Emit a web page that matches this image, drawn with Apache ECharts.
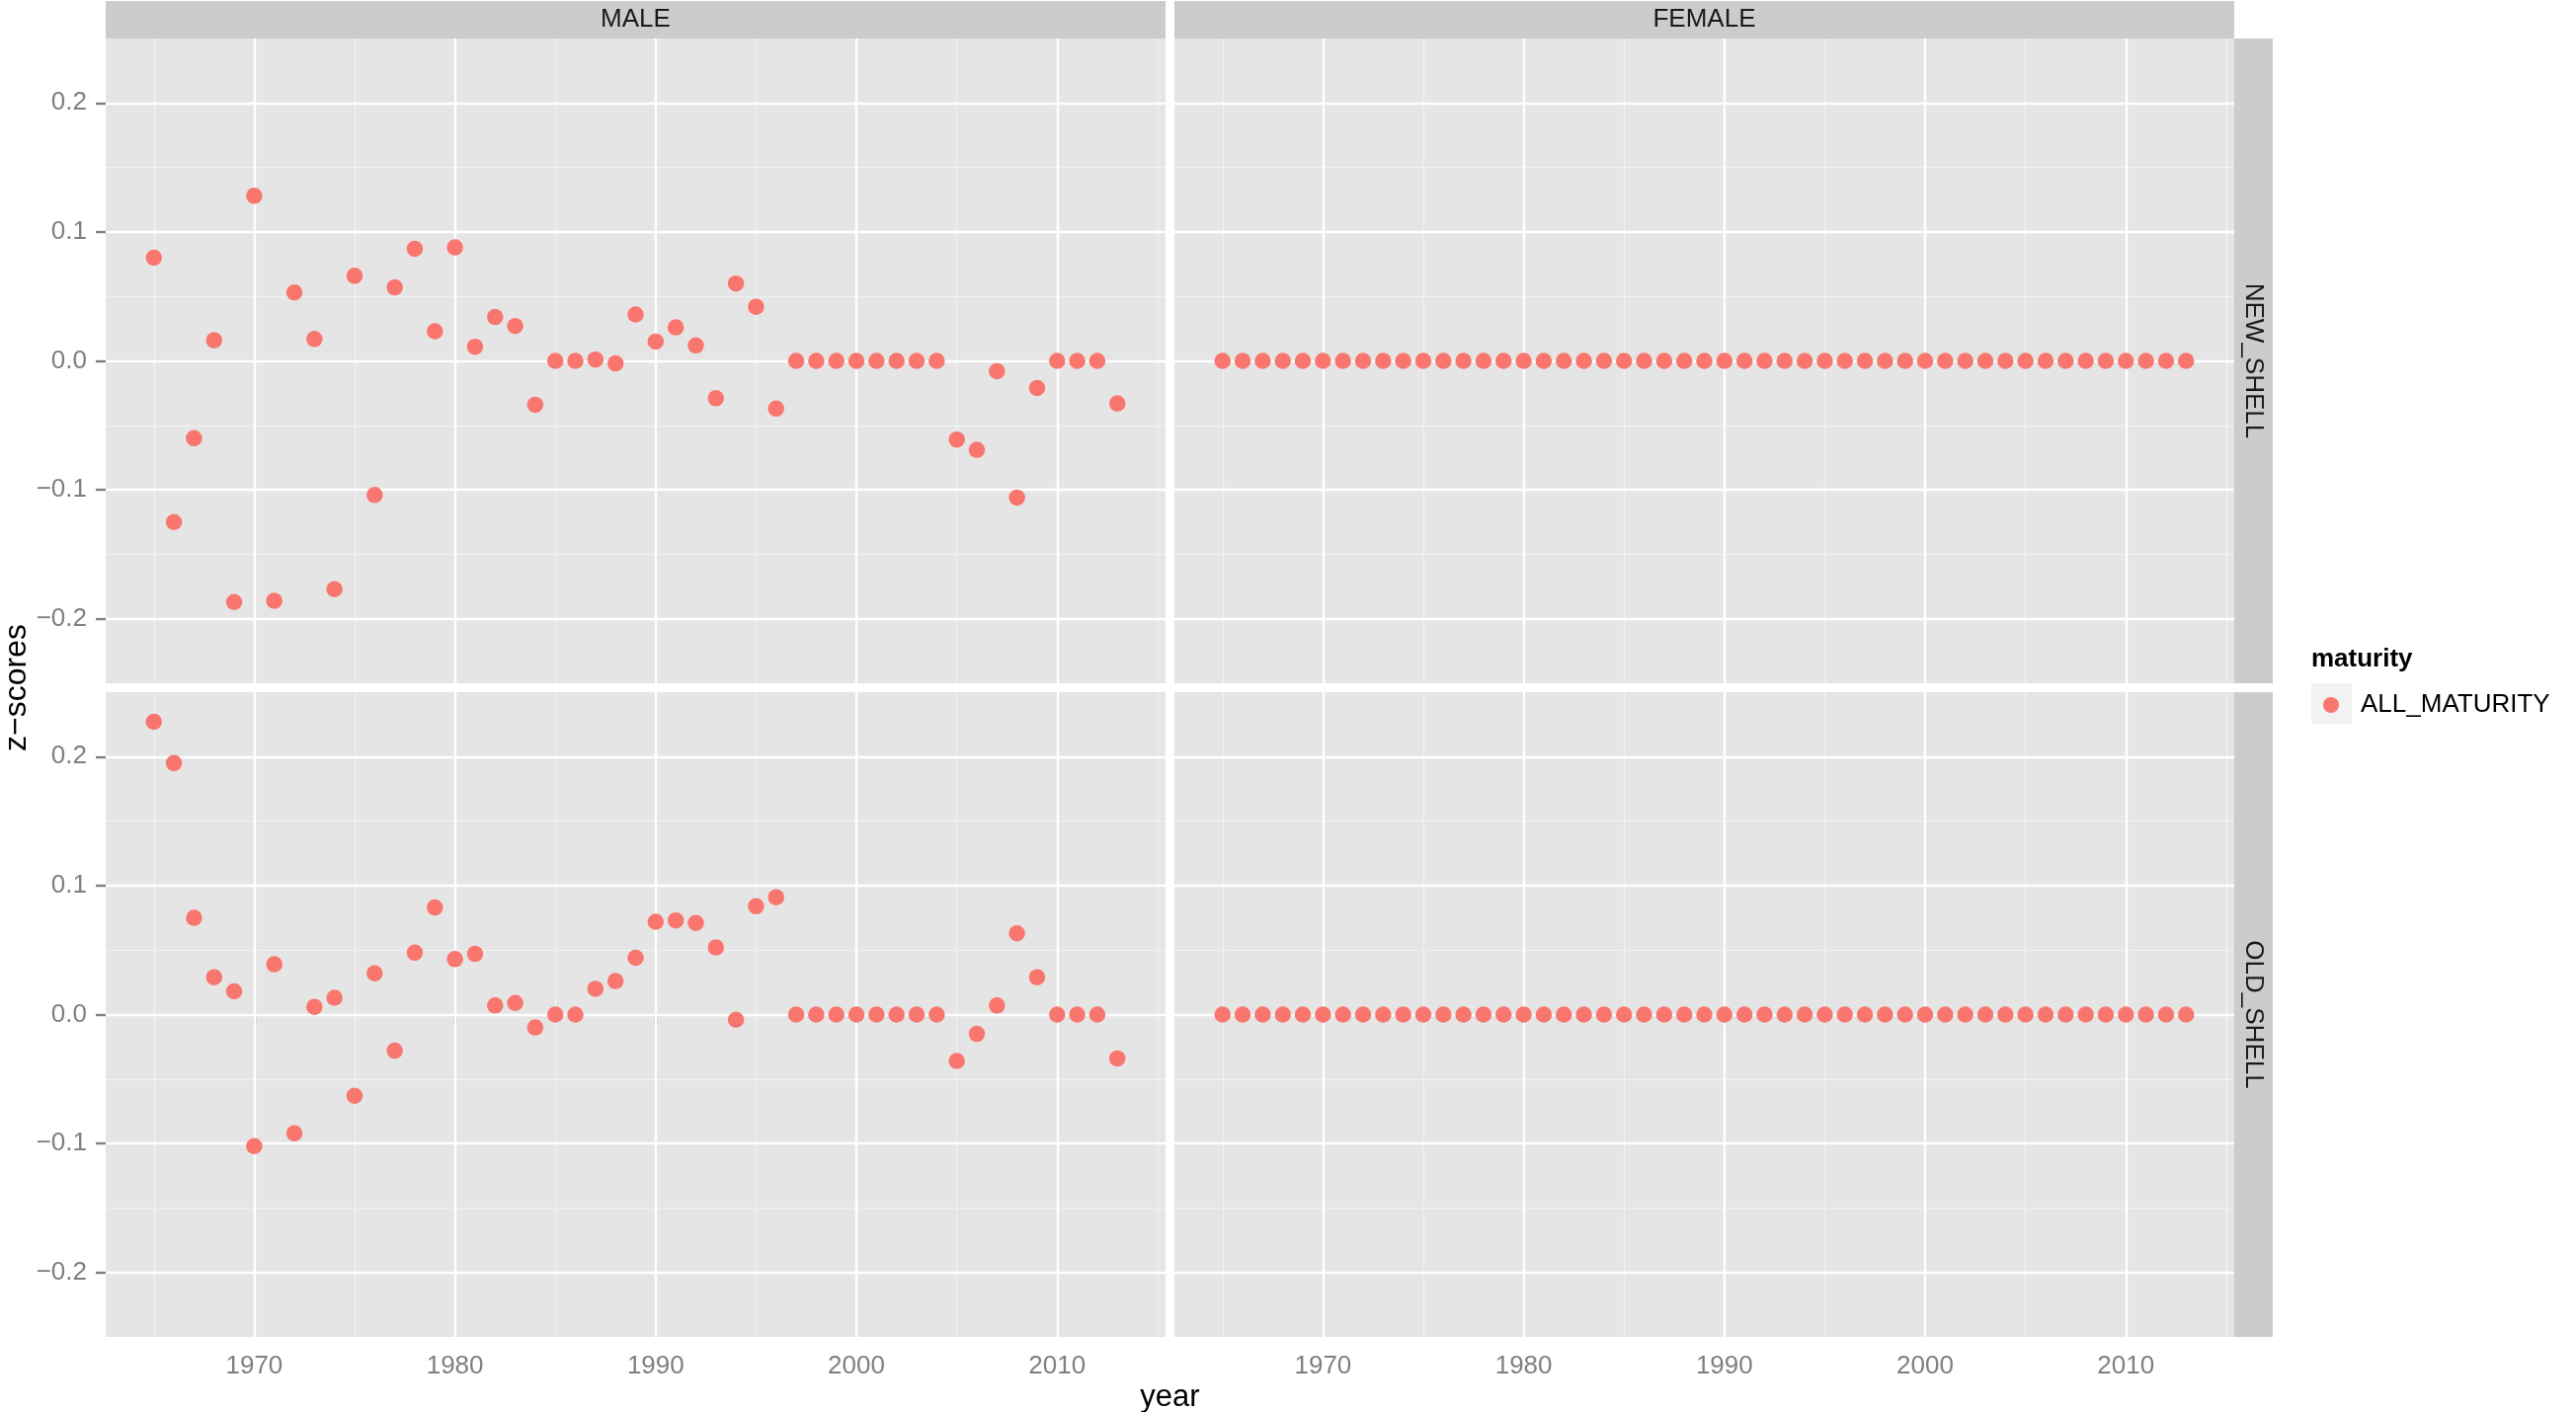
<!DOCTYPE html>
<html><head><meta charset="utf-8">
<script src="https://cdn.jsdelivr.net/npm/echarts@6/dist/echarts.min.js"></script>
<style>html,body{margin:0;padding:0;background:#fff}#c{width:2608px;height:1430px}</style>
</head><body><div id="c"></div>
<script>
// ---------------- data ----------------
const years = [1965,1966,1967,1968,1969,1970,1971,1972,1973,1974,1975,1976,1977,1978,1979,
  1980,1981,1982,1983,1984,1985,1986,1987,1988,1989,1990,1991,1992,1993,1994,1995,1996,
  1997,1998,1999,2000,2001,2002,2003,2004,2005,2006,2007,2008,2009,2010,2011,2012,2013];

const maleNewShell = [0.080,-0.125,-0.060,0.016,-0.187,0.128,-0.186,0.053,0.017,-0.177,0.066,-0.104,0.057,0.087,0.023,
  0.088,0.011,0.034,0.027,-0.034,0.000,0.000,0.001,-0.002,0.036,0.015,0.026,0.012,-0.029,0.060,0.042,-0.037,
  0.000,0.000,0.000,0.000,0.000,0.000,0.000,0.000,-0.061,-0.069,-0.008,-0.106,-0.021,0.000,0.000,0.000,-0.033];

const femaleNewShell = [0,0,0,0,0,0,0,0,0,0,0,0,0,0,0,
  0,0,0,0,0,0,0,0,0,0,0,0,0,0,0,0,0,
  0,0,0,0,0,0,0,0,0,0,0,0,0,0,0,0,0];

const maleOldShell = [0.227,0.195,0.075,0.029,0.018,-0.102,0.039,-0.092,0.006,0.013,-0.063,0.032,-0.028,0.048,0.083,
  0.043,0.047,0.007,0.009,-0.010,0.000,0.000,0.020,0.026,0.044,0.072,0.073,0.071,0.052,-0.004,0.084,0.091,
  0.000,0.000,0.000,0.000,0.000,0.000,0.000,0.000,-0.036,-0.015,0.007,0.063,0.029,0.000,0.000,0.000,-0.034];

const femaleOldShell = [0,0,0,0,0,0,0,0,0,0,0,0,0,0,0,
  0,0,0,0,0,0,0,0,0,0,0,0,0,0,0,0,0,
  0,0,0,0,0,0,0,0,0,0,0,0,0,0,0,0,0];

const xTickLabels = [1970,1980,1990,2000,2010];
const xMinorBreaks = [1965,1975,1985,1995,2005,2015];
const yTickLabels = [-0.2,-0.1,0.0,0.1,0.2];
const yMinorBreaks = [-0.15,-0.05,0.05,0.15];
const facetCols = ['MALE','FEMALE'];
const facetRows = ['NEW_SHELL','OLD_SHELL'];
const seriesName = 'ALL_MATURITY';
const legendTitle = 'maturity';
const xTitle = 'year';
const yTitle = 'z\u2212scores';

// ---------------- layout ----------------
const FONT = '"Liberation Sans", Arial, Helvetica, sans-serif';
const panelW = 1073, panelH = 653;
const colLeft = [107, 1189];
const rowTop = [39, 701];
const xMin = 1962.6, xMax = 2015.4;
const yMin = -0.25, yMax = 0.25;
const panelData = [[maleNewShell, femaleNewShell],[maleOldShell, femaleOldShell]];

const grids = [], xAxes = [], yAxes = [], series = [];
const gridLineData = [];
xMinorBreaks.forEach(v => gridLineData.push({xAxis: v, lineStyle: {color: '#F2F2F2', width: 1.2, type: 'solid'}}));
yMinorBreaks.forEach(v => gridLineData.push({yAxis: v, lineStyle: {color: '#F2F2F2', width: 1.2, type: 'solid'}}));
xTickLabels.forEach(v => gridLineData.push({xAxis: v, lineStyle: {color: '#FFFFFF', width: 2.4, type: 'solid'}}));
yTickLabels.forEach(v => gridLineData.push({yAxis: v, lineStyle: {color: '#FFFFFF', width: 2.4, type: 'solid'}}));

let idx = 0;
for (let r = 0; r < 2; r++) {
  for (let c = 0; c < 2; c++) {
    grids.push({left: colLeft[c], top: rowTop[r], width: panelW, height: panelH,
      show: true, backgroundColor: '#E5E5E5', borderWidth: 0, containLabel: false});
    const bottom = r === 1, left = c === 0;
    xAxes.push({type: 'value', gridIndex: idx, min: xMin, max: xMax,
      axisLine: {show: false}, splitLine: {show: false},
      axisTick: {show: bottom, customValues: xTickLabels, length: 10, inside: false,
        lineStyle: {color: '#7F7F7F', width: 2.4}},
      axisLabel: {show: bottom, customValues: xTickLabels, fontSize: 26, color: '#7F7F7F',
        fontFamily: FONT, margin: 17, formatter: v => String(v)}});
    yAxes.push({type: 'value', gridIndex: idx, min: yMin, max: yMax,
      axisLine: {show: false}, splitLine: {show: false},
      axisTick: {show: left, customValues: yTickLabels, length: 10, inside: false,
        lineStyle: {color: '#7F7F7F', width: 2.4}},
      axisLabel: {show: left, customValues: yTickLabels, fontSize: 26, color: '#7F7F7F',
        fontFamily: FONT, margin: 19, formatter: v => Number(v).toFixed(1).replace('-', '\u2212')}});
    const vals = panelData[r][c];
    series.push({type: 'scatter', name: seriesName, xAxisIndex: idx, yAxisIndex: idx, z: 3,
      symbol: 'circle', symbolSize: 16.5, itemStyle: {color: '#F8766D', opacity: 1},
      data: years.map((y, i) => [y, vals[i]]),
      markLine: {silent: true, z: 1, symbol: ['none', 'none'], label: {show: false},
        animation: false, emphasis: {disabled: true}, data: gridLineData}});
    idx++;
  }
}

const graphics = [];
// top strips
for (let c = 0; c < 2; c++) {
  graphics.push({type: 'rect', z: 0, shape: {x: colLeft[c], y: 1, width: panelW, height: 38}, style: {fill: '#CCCCCC'}, silent: true});
  graphics.push({type: 'text', z: 1, x: colLeft[c] + panelW / 2, y: 20,
    style: {text: facetCols[c], fontSize: 26, fontFamily: FONT, fill: '#1A1A1A', align: 'center', verticalAlign: 'middle'}});
}
// right strips
const stripX = colLeft[1] + panelW;
for (let r = 0; r < 2; r++) {
  graphics.push({type: 'rect', z: 0, shape: {x: stripX, y: rowTop[r], width: 39, height: panelH}, style: {fill: '#CCCCCC'}, silent: true});
  graphics.push({type: 'text', z: 1, x: stripX + 19.5, y: rowTop[r] + panelH / 2, rotation: -Math.PI / 2,
    style: {text: facetRows[r], fontSize: 26, fontFamily: FONT, fill: '#1A1A1A', align: 'center', verticalAlign: 'middle'}});
}
// axis titles
graphics.push({type: 'text', x: (colLeft[0] + stripX) / 2, y: 1415,
  style: {text: xTitle, fontSize: 31, fontFamily: FONT, fill: '#000', align: 'center', verticalAlign: 'middle'}});
graphics.push({type: 'text', x: 17, y: (rowTop[0] + rowTop[1] + panelH) / 2, rotation: Math.PI / 2,
  style: {text: yTitle, fontSize: 32, fontFamily: FONT, fill: '#000', align: 'center', verticalAlign: 'middle'}});
// legend title and key background
graphics.push({type: 'text', x: 2340, y: 668,
  style: {text: legendTitle, fontSize: 26, fontWeight: 'bold', fontFamily: FONT, fill: '#000', align: 'left', verticalAlign: 'middle'}});
graphics.push({type: 'rect', z: 0, shape: {x: 2340, y: 692, width: 41, height: 41}, style: {fill: '#F2F2F2'}, silent: true});

const chart = echarts.init(document.getElementById('c'), null, {renderer: 'canvas'});
chart.setOption({
  backgroundColor: '#FFFFFF',
  animation: false,
  grid: grids, xAxis: xAxes, yAxis: yAxes, series: series,
  legend: {show: true, data: [seriesName], left: 2352, top: 701, padding: 0, icon: 'circle',
    itemWidth: 16, itemHeight: 16, itemGap: 0, selectedMode: false, z: 5,
    textStyle: {fontSize: 26, fontFamily: FONT, color: '#000', padding: [0, 0, 0, 17]}},
  graphic: graphics
});
</script></body></html>
